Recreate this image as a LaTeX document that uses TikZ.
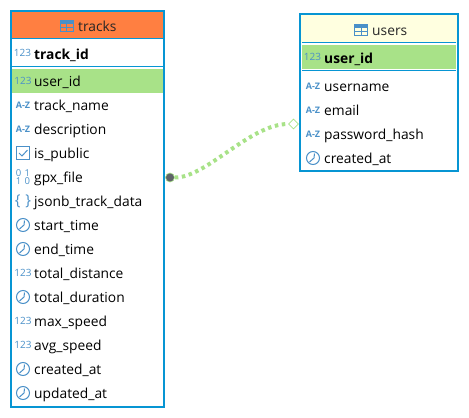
\documentclass[tikz,border=0pt]{standalone}
\usepackage{fontspec}
\usetikzlibrary{shapes.geometric}
\setmainfont{Open Sans}
\definecolor{boxblue}{HTML}{0795D3}
\definecolor{iconblue}{HTML}{4A90C8}
\definecolor{keygreen}{HTML}{A8E288}
\definecolor{headorange}{HTML}{FF7F41}
\definecolor{headyellow}{HTML}{FFFFE0}
\definecolor{dotgray}{HTML}{5F6368}
\tikzset{
  x=1pt,y=1pt,
  fieldlabel/.style={anchor=base west,yshift=-5.5pt,inner sep=0pt,text=black,font=\fontsize{13.8}{15}\selectfont},
  keylabel/.style={fieldlabel,font=\fontsize{13.8}{15}\selectfont\bfseries},
  titlelabel/.style={fieldlabel,text=black!85},
  icontext/.style={inner sep=0pt,text=iconblue},
  iconline/.style={draw=iconblue,line width=1pt},
  tablebox/.style={draw=boxblue,line width=2pt},
  sepline/.style={draw=boxblue,line width=1pt},
  pics/numicon/.style={code={\node[icontext,font=\fontsize{10}{10}\selectfont] {123};}},
  pics/azicon/.style={code={\node[icontext,font=\fontsize{9}{9}\selectfont\bfseries] {A-Z};}},
  pics/clockicon/.style={code={
    \draw[iconline] (0,0) circle (6.5);
    \draw[iconline] (1.5,4.5) -- (1,0) -- (-3.5,-4);}},
  pics/checkicon/.style={code={
    \draw[iconline] (-6.5,-6.5) rectangle (6.5,6.5);
    \draw[iconline] (-4,0) -- (-1,-3) -- (4.5,3);}},
  pics/binicon/.style={code={
    \node[icontext,align=center,font=\fontsize{9.5}{8}\selectfont] {0\,\,1\\1\,\,0};}},
  pics/jsonicon/.style={code={\node[icontext,font=\fontsize{15}{15}\selectfont] {\{\,\,\}};}},
  pics/tableicon/.style={code={
    \draw[iconline] (-6.5,-5.5) rectangle (6.5,5.5);
    \fill[iconblue] (-6.5,2) rectangle (6.5,5.5);
    \draw[iconline] (-6.5,-1.5) -- (6.5,-1.5) (0,-5.5) -- (0,2);}}
}
\begin{document}
\begin{tikzpicture}
  \useasboundingbox (0,0) rectangle (469,-418);
  % tracks
  \fill[headorange] (11,-11) rectangle (164,-38.5);
  \fill[keygreen] (12,-69) rectangle (163,-93);
  \draw[sepline] (11,-38.5) -- (164,-38.5);
  \draw[sepline] (11,-66) -- (164,-66);
  \draw[tablebox] (11,-11) rectangle (164,-406.5);
  \pic at (66.5,-25.5) {tableicon};
  \node[titlelabel] (tracks) at (78,-26) {tracks};
  \pic at (22.5,-53) {numicon};
  \node[keylabel] (trackid) at (34,-54) {track\_id};
  \foreach \y/\lbl/\ic/\nm in {81/user\_id/numicon/userid,105/track\_name/azicon/trackname,
    129/description/azicon/description,153/is\_public/checkicon/ispublic,177/gpx\_file/binicon/gpxfile,
    201/jsonb\_track\_data/jsonicon/jsonbdata,225/start\_time/clockicon/starttime,
    249/end\_time/clockicon/endtime,273/total\_distance/numicon/totaldistance,
    297/total\_duration/clockicon/totalduration,321/max\_speed/numicon/maxspeed,
    345/avg\_speed/numicon/avgspeed,369/created\_at/clockicon/createdat,393/updated\_at/clockicon/updatedat}
  {
    \pic at (23,-\y) {\ic};
    \node[fieldlabel] (\nm) at (34,-\y) {\lbl};
  }
  % users
  \fill[headyellow] (300,-14) rectangle (458,-42.5);
  \fill[keygreen] (302,-45) rectangle (456,-69);
  \draw[sepline] (302,-42.5) -- (456,-42.5);
  \draw[sepline] (302,-70.5) -- (456,-70.5);
  \draw[tablebox] (300,-14) rectangle (458,-170.5);
  \pic at (361,-30) {tableicon};
  \node[titlelabel] (users) at (372,-30) {users};
  \pic at (312.5,-57) {numicon};
  \node[keylabel] (uid) at (324,-58) {user\_id};
  \foreach \y/\lbl/\ic/\nm in {86/username/azicon/username,110/email/azicon/email,
    134/password\_hash/azicon/passwordhash,158/created\_at/clockicon/ucreatedat}
  {
    \pic at (313,-\y) {\ic};
    \node[fieldlabel] (\nm) at (324,-\y) {\lbl};
  }
  % relation
  \node[circle,fill=dotgray,draw=keygreen,line width=0.6pt,inner sep=0pt,minimum size=9pt] (many) at (170,-177.5) {};
  \node[diamond,aspect=1,draw=keygreen,fill=white,line width=0.8pt,inner sep=0pt,minimum size=10pt] (one) at (293.5,-124) {};
  \draw[keygreen,line width=4pt,dash pattern=on 3.5pt off 3.6pt]
    (many.east) .. controls (206,-178) and (250,-124) .. (one.west);
\end{tikzpicture}
\end{document}
